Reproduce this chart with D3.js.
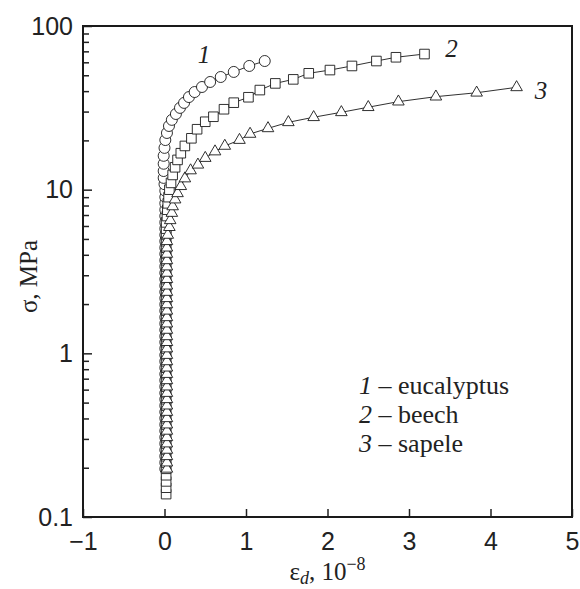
<!DOCTYPE html>
<html>
<head>
<meta charset="utf-8">
<script src="https://cdn.jsdelivr.net/npm/d3@7"></script>
<style>
  body { margin: 0; background: #fff; }
  svg { font-family: "Liberation Serif", "DejaVu Serif", serif; }
  .tick text { font-size: 25px; fill: #222; }
  .tick line { stroke: #222; stroke-width: 1.5; }
  .axis .domain { display: none; }
</style>
</head>
<body>
<svg id="chart"></svg>
<script>
// strain (10^-8) and stress (MPa)
const eucalyptusStrain = [
  0.01, 0.01, 0.01, 0.01, 0.01, 0.01, 0.01, 0.01, 0.01, 0.01,
  0.01, 0.01, 0.01, 0.01, 0.01, 0.01, 0.01, 0.01, 0.01, 0.01,
  0.01, 0.01, 0.01, 0.01, 0.01, 0.01, 0.01, 0.01, 0.01, 0.01,
  0.01, 0.01, 0.01, 0.01, 0.01, 0.01, 0.01, 0.01, 0.01, 0.01,
  0.01, 0.01, 0.01, 0.01, 0.01, 0.0, -0.01, -0.01, -0.01, -0.01,
  0.0, 0.01, 0.03, 0.055, 0.09, 0.14, 0.19, 0.24, 0.30, 0.37,
  0.46, 0.56, 0.69, 0.85, 1.04, 1.23
];
const eucalyptusStress = [
  0.197, 0.215, 0.235, 0.257, 0.281, 0.307, 0.336, 0.367, 0.401, 0.438,
  0.479, 0.524, 0.572, 0.626, 0.684, 0.747, 0.817, 0.893, 0.976, 1.07,
  1.17, 1.27, 1.39, 1.52, 1.66, 1.82, 1.99, 2.17, 2.37, 2.59,
  2.84, 3.10, 3.39, 3.70, 4.05, 4.42, 4.84, 5.29, 5.78, 6.31,
  6.90, 7.54, 8.25, 9.01, 9.85, 10.8, 11.8, 13.0, 14.4, 16.1,
  18.0, 20.1, 22.2, 24.5, 26.7, 29.0, 31.6, 33.9, 36.8, 39.5,
  42.4, 45.5, 48.8, 52.4, 57.0, 61.1
];

const beechStrain = [
  0.02, 0.02, 0.02, 0.02, 0.02, 0.02, 0.02, 0.02, 0.02, 0.02,
  0.02, 0.02, 0.02, 0.02, 0.02, 0.02, 0.02, 0.02, 0.02, 0.02,
  0.02, 0.02, 0.02, 0.02, 0.02, 0.02, 0.02, 0.02, 0.02, 0.02,
  0.02, 0.02, 0.02, 0.02, 0.02, 0.02, 0.02, 0.02, 0.02, 0.02,
  0.02, 0.02, 0.02, 0.02, 0.03, 0.035, 0.04, 0.05, 0.06, 0.08,
  0.10, 0.13, 0.16, 0.20, 0.25, 0.33, 0.40, 0.50, 0.60, 0.73,
  0.85, 1.03, 1.17, 1.36, 1.58, 1.77, 2.03, 2.30, 2.60, 2.84,
  3.19
];
const beechStress = [
  0.138, 0.151, 0.165, 0.180, 0.197, 0.215, 0.235, 0.257, 0.281, 0.307,
  0.336, 0.367, 0.401, 0.438, 0.479, 0.524, 0.572, 0.626, 0.684, 0.747,
  0.817, 0.893, 0.976, 1.07, 1.17, 1.27, 1.39, 1.52, 1.66, 1.82,
  1.99, 2.17, 2.37, 2.59, 2.84, 3.10, 3.39, 3.70, 4.05, 4.42,
  4.84, 5.29, 5.78, 6.31, 6.90, 7.54, 8.25, 9.0, 10.0, 11.0,
  12.3, 13.7, 15.2, 16.7, 18.5, 20.6, 23.4, 26.0, 27.9, 31.0,
  34.0, 36.7, 40.6, 44.6, 47.2, 51.4, 53.8, 57.0, 61.1, 64.4,
  67.4
];

const sapeleStrain = [
  0.03, 0.03, 0.03, 0.03, 0.03, 0.03, 0.03, 0.03, 0.03, 0.03,
  0.03, 0.03, 0.03, 0.03, 0.03, 0.03, 0.03, 0.03, 0.03, 0.03,
  0.03, 0.03, 0.03, 0.03, 0.03, 0.03, 0.03, 0.03, 0.03, 0.03,
  0.03, 0.03, 0.03, 0.03, 0.03, 0.03, 0.03, 0.04, 0.06, 0.07,
  0.09, 0.10, 0.13, 0.16, 0.20, 0.25, 0.32, 0.41, 0.50, 0.62,
  0.74, 0.92, 1.05, 1.27, 1.52, 1.83, 2.17, 2.50, 2.87, 3.33,
  3.83, 4.32
];
const sapeleStress = [
  0.197, 0.215, 0.235, 0.257, 0.281, 0.307, 0.336, 0.367, 0.401, 0.438,
  0.479, 0.524, 0.572, 0.626, 0.684, 0.747, 0.817, 0.893, 0.976, 1.07,
  1.17, 1.27, 1.39, 1.52, 1.66, 1.82, 1.99, 2.17, 2.37, 2.59,
  2.84, 3.10, 3.39, 3.70, 4.05, 4.42, 4.84, 5.29, 5.9, 6.5,
  7.2, 7.9, 8.7, 9.5, 10.5, 11.7, 13.1, 14.2, 15.6, 17.1,
  18.5, 20.1, 21.9, 23.7, 25.8, 27.7, 29.7, 31.9, 34.5, 37.0,
  39.1, 42.2
];

const seriesNums = ['1', '2', '3'];
const seriesNames = ['eucalyptus', 'beech', 'sapele'];
// where the curve numbers sit, in data units
const curveLabelX = [0.485, 3.52, 4.62];
const curveLabelY = [59.4, 64.7, 35.8];

const xTicks = [-1, 0, 1, 2, 3, 4, 5];
const yTicks = [0.1, 1, 10, 100];
const yTickLabels = ['0.1', '1', '10', '100'];
const yMinorTicks = [0.2, 0.3, 0.4, 0.5, 0.6, 0.7, 0.8, 0.9,
  2, 3, 4, 5, 6, 7, 8, 9, 20, 30, 40, 50, 60, 70, 80, 90];

class StrainChart {

  constructor(_config, _data) {
    this.config = {
      parentElement: _config.parentElement,
      containerWidth: _config.containerWidth || 580,
      containerHeight: _config.containerHeight || 589,
      margin: _config.margin || { top: 26, right: 8, bottom: 72, left: 83 }
    }
    this.data = _data;
    this.initVis();
  }

  initVis() {
    let vis = this;

    vis.width = vis.config.containerWidth - vis.config.margin.left - vis.config.margin.right;
    vis.height = vis.config.containerHeight - vis.config.margin.top - vis.config.margin.bottom;

    vis.xScale = d3.scaleLinear()
      .domain([-1, 5])
      .range([0, vis.width]);

    vis.yScale = d3.scaleLog()
      .domain([0.1, 100])
      .range([vis.height, 0]);

    // ticks point inward, like the original figure
    vis.xAxis = d3.axisBottom(vis.xScale)
      .tickValues(xTicks)
      .tickSizeInner(-8)
      .tickSizeOuter(0)
      .tickPadding(15)
      .tickFormat(d3.format('d'));

    vis.yAxis = d3.axisLeft(vis.yScale)
      .tickValues(yTicks)
      .tickSizeInner(-9)
      .tickSizeOuter(0)
      .tickPadding(10)
      .tickFormat((d, i) => yTickLabels[i]);

    vis.yMinorAxis = d3.axisLeft(vis.yScale)
      .tickValues(yMinorTicks)
      .tickSizeInner(-6)
      .tickSizeOuter(0)
      .tickFormat('');

    vis.svg = d3.select(vis.config.parentElement)
      .attr('width', vis.config.containerWidth)
      .attr('height', vis.config.containerHeight);

    vis.chart = vis.svg.append('g')
      .attr('transform', `translate(${vis.config.margin.left},${vis.config.margin.top})`);

    vis.xAxisG = vis.chart.append('g')
      .attr('class', 'axis x-axis')
      .attr('transform', `translate(0,${vis.height})`);

    vis.yAxisG = vis.chart.append('g')
      .attr('class', 'axis y-axis');

    vis.yMinorG = vis.chart.append('g')
      .attr('class', 'axis y-minor');

    vis.lines = vis.chart.append('g')
      .attr('class', 'lines');

    vis.chart.append('rect')
      .attr('width', vis.width)
      .attr('height', vis.height)
      .attr('fill', 'none')
      .attr('stroke', '#1a1a1a')
      .attr('stroke-width', 2);

    // axis titles
    vis.svg.append('text')
      .attr('transform', `translate(37,${vis.config.margin.top + vis.height / 2 + 5}) rotate(-90)`)
      .attr('text-anchor', 'middle')
      .style('font-size', '25px')
      .attr('fill', '#222')
      .text('σ, MPa');

    const xTitle = vis.svg.append('text')
      .attr('x', vis.config.margin.left + vis.width / 2)
      .attr('y', 580)
      .attr('text-anchor', 'middle')
      .style('font-size', '25px')
      .attr('fill', '#222');
    xTitle.append('tspan').text('ε');
    xTitle.append('tspan').attr('font-style', 'italic').attr('dy', 4).style('font-size', '18px').text('d');
    xTitle.append('tspan').attr('dy', -4).text(', 10');
    xTitle.append('tspan').attr('dy', -10).style('font-size', '18px').text('−8');
  }

  updateVis() {
    let vis = this;

    vis.xValue = d => d.strain;
    vis.yValue = d => d.stress;

    vis.line = d3.line()
      .x(d => vis.xScale(vis.xValue(d)))
      .y(d => vis.yScale(vis.yValue(d)));

    vis.symbols = [
      d3.symbol().type(d3.symbolCircle).size(95),
      d3.symbol().type(d3.symbolSquare).size(92),
      d3.symbol().type(d3.symbolTriangle).size(58)
    ];

    vis.renderVis();
  }

  renderVis() {
    let vis = this;

    const group = vis.lines.selectAll('.line-group')
      .data(vis.data)
      .join('g')
      .attr('class', 'line-group');

    group.append('path')
      .attr('class', 'line')
      .attr('d', d => vis.line(d.values))
      .attr('fill', 'none')
      .attr('stroke', '#1a1a1a')
      .attr('stroke-width', 0.9);

    group.each(function (d, i) {
      d3.select(this).selectAll('.marker')
        .data(d.values)
        .join('path')
        .attr('class', 'marker')
        .attr('transform', p => `translate(${vis.xScale(vis.xValue(p))},${vis.yScale(vis.yValue(p))})`)
        .attr('d', vis.symbols[i])
        .attr('fill', '#fff')
        .attr('stroke', '#1a1a1a')
        .attr('stroke-width', 0.9);
    });

    // curve numbers
    vis.chart.selectAll('.curve-label')
      .data(vis.data)
      .join('text')
      .attr('class', 'curve-label')
      .attr('x', (d, i) => vis.xScale(curveLabelX[i]))
      .attr('y', (d, i) => vis.yScale(curveLabelY[i]))
      .attr('text-anchor', 'middle')
      .style('font-size', '25px')
      .style('font-style', 'italic')
      .attr('fill', '#222')
      .text(d => d.num);

    // legend
    const legend = vis.svg.append('g')
      .attr('transform', 'translate(359,394)');
    vis.data.forEach((d, i) => {
      const t = legend.append('text')
        .attr('y', i * 29)
        .style('font-size', '26px')
        .attr('fill', '#222');
      t.append('tspan').style('font-style', 'italic').text(d.num);
      t.append('tspan').text(' – ' + d.name);
    });

    vis.xAxisG.call(vis.xAxis);
    vis.yAxisG.call(vis.yAxis);
    vis.yMinorG.call(vis.yMinorAxis);
    vis.yMinorG.selectAll('.tick line').attr('stroke-width', 1.2);
  }
}

const strains = [eucalyptusStrain, beechStrain, sapeleStrain];
const stresses = [eucalyptusStress, beechStress, sapeleStress];
const data = seriesNames.map((name, i) => ({
  name: name,
  num: seriesNums[i],
  values: strains[i].map((s, j) => ({ strain: s, stress: stresses[i][j] }))
}));

const chart = new StrainChart({ parentElement: '#chart' }, data);
chart.updateVis();
</script>
</body>
</html>
